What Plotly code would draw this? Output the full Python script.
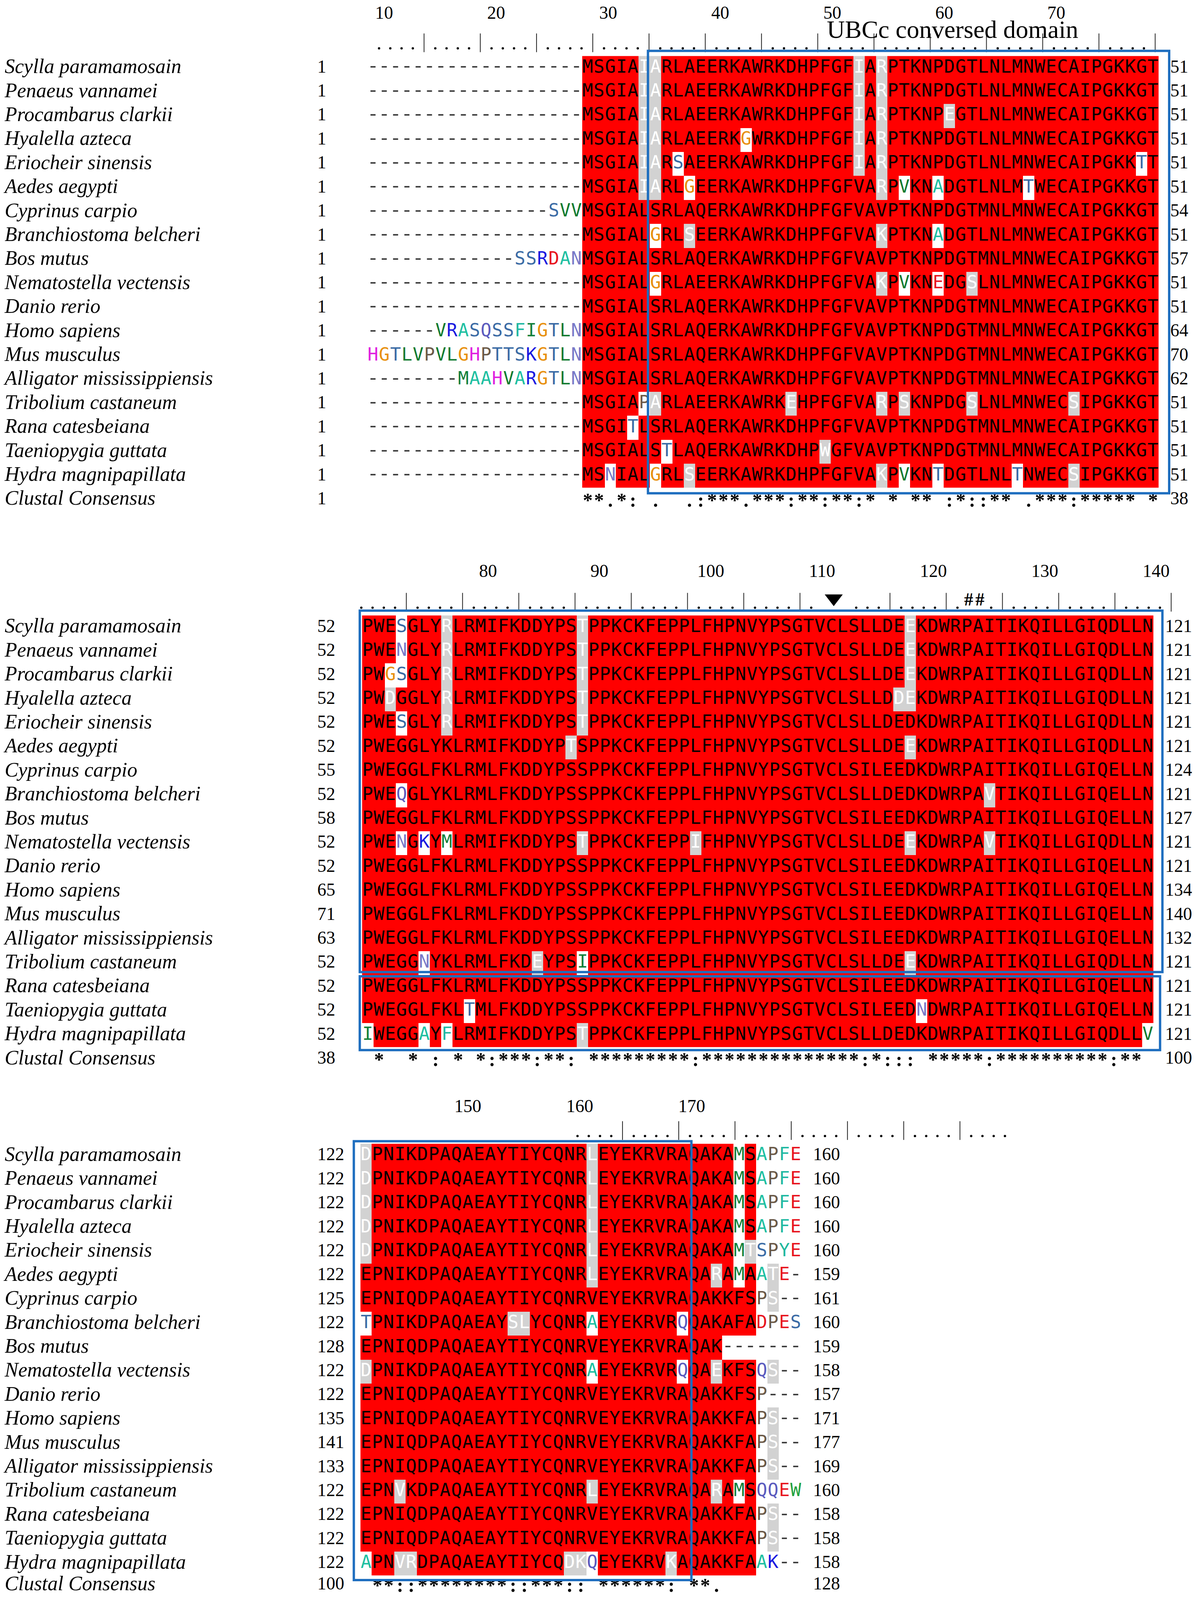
import plotly.graph_objects as go

# ---------------- alignment data ----------------
SPECIES = [
    "Scylla paramamosain", "Penaeus vannamei", "Procambarus clarkii", "Hyalella azteca",
    "Eriocheir sinensis", "Aedes aegypti", "Cyprinus carpio", "Branchiostoma belcheri",
    "Bos mutus", "Nematostella vectensis", "Danio rerio", "Homo sapiens", "Mus musculus",
    "Alligator mississippiensis", "Tribolium castaneum", "Rana catesbeiana",
    "Taeniopygia guttata", "Hydra magnipapillata",
]
CONSENSUS_NAME = "Clustal Consensus"

BLOCK1 = [
    "-------------------" "MSGIAIARLAEERKAWRKDHPFGFIARPTKNPDGTLNLMNWECAIPGKKGT",
    "-------------------" "MSGIAIARLAEERKAWRKDHPFGFIARPTKNPDGTLNLMNWECAIPGKKGT",
    "-------------------" "MSGIAIARLAEERKAWRKDHPFGFIARPTKNPEGTLNLMNWECAIPGKKGT",
    "-------------------" "MSGIAIARLAEERKGWRKDHPFGFIARPTKNPDGTLNLMNWECAIPGKKGT",
    "-------------------" "MSGIAIARSAEERKAWRKDHPFGFIARPTKNPDGTLNLMNWECAIPGKKTT",
    "-------------------" "MSGIAIARLGEERKAWRKDHPFGFVARPVKNADGTLNLMTWECAIPGKKGT",
    "----------------SVV" "MSGIALSRLAQERKAWRKDHPFGFVAVPTKNPDGTMNLMNWECAIPGKKGT",
    "-------------------" "MSGIALGRLSEERKAWRKDHPFGFVAKPTKNADGTLNLMNWECAIPGKKGT",
    "-------------SSRDAN" "MSGIALSRLAQERKAWRKDHPFGFVAVPTKNPDGTMNLMNWECAIPGKKGT",
    "-------------------" "MSGIALGRLAEERKAWRKDHPFGFVAKPVKNEDGSLNLMNWECAIPGKKGT",
    "-------------------" "MSGIALSRLAQERKAWRKDHPFGFVAVPTKNPDGTMNLMNWECAIPGKKGT",
    "------VRASQSSFIGTLN" "MSGIALSRLAQERKAWRKDHPFGFVAVPTKNPDGTMNLMNWECAIPGKKGT",
    "HGTLVPVLGHPTTSKGTLN" "MSGIALSRLAQERKAWRKDHPFGFVAVPTKNPDGTMNLMNWECAIPGKKGT",
    "--------MAAHVARGTLN" "MSGIALSRLAQERKAWRKDHPFGFVAVPTKNPDGTMNLMNWECAIPGKKGT",
    "-------------------" "MSGIAPARLAEERKAWRKEHPFGFVARPSKNPDGSLNLMNWECSIPGKKGT",
    "-------------------" "MSGITLSRLAQERKAWRKDHPFGFVAVPTKNPDGTMNLMNWECAIPGKKGT",
    "-------------------" "MSGIALSTLAQERKAWRKDHPWGFVAVPTKNPDGTMNLMNWECAIPGKKGT",
    "-------------------" "MSNIALGRLSEERKAWRKDHPFGFVAKPVKNTDGTLNLTNWECSIPGKKGT",
]

BLOCK2 = [
    "PWESGLYRLRMIFKDDYPSTPPKCKFEPPLFHPNVYPSGTVCLSLLDEEKDWRPAITIKQILLGIQDLLN",
    "PWENGLYRLRMIFKDDYPSTPPKCKFEPPLFHPNVYPSGTVCLSLLDEEKDWRPAITIKQILLGIQDLLN",
    "PWGSGLYRLRMIFKDDYPSTPPKCKFEPPLFHPNVYPSGTVCLSLLDEEKDWRPAITIKQILLGIQDLLN",
    "PWDGGLYRLRMIFKDDYPSTPPKCKFEPPLFHPNVYPSGTVCLSLLDDEKDWRPAITIKQILLGIQDLLN",
    "PWESGLYRLRMIFKDDYPSTPPKCKFEPPLFHPNVYPSGTVCLSLLDEDKDWRPAITIKQILLGIQDLLN",
    "PWEGGLYKLRMIFKDDYPTSPPKCKFEPPLFHPNVYPSGTVCLSLLDEEKDWRPAITIKQILLGIQDLLN",
    "PWEGGLFKLRMLFKDDYPSSPPKCKFEPPLFHPNVYPSGTVCLSILEEDKDWRPAITIKQILLGIQELLN",
    "PWEQGLYKLRMLFKDDYPSSPPKCKFEPPLFHPNVYPSGTVCLSLLDEDKDWRPAVTIKQILLGIQELLN",
    "PWEGGLFKLRMLFKDDYPSSPPKCKFEPPLFHPNVYPSGTVCLSILEEDKDWRPAITIKQILLGIQELLN",
    "PWENGKYMLRMIFKDDYPSTPPKCKFEPPIFHPNVYPSGTVCLSLLDEEKDWRPAVTIKQILLGIQDLLN",
    "PWEGGLFKLRMLFKDDYPSSPPKCKFEPPLFHPNVYPSGTVCLSILEEDKDWRPAITIKQILLGIQELLN",
    "PWEGGLFKLRMLFKDDYPSSPPKCKFEPPLFHPNVYPSGTVCLSILEEDKDWRPAITIKQILLGIQELLN",
    "PWEGGLFKLRMLFKDDYPSSPPKCKFEPPLFHPNVYPSGTVCLSILEEDKDWRPAITIKQILLGIQELLN",
    "PWEGGLFKLRMLFKDDYPSSPPKCKFEPPLFHPNVYPSGTVCLSILEEDKDWRPAITIKQILLGIQELLN",
    "PWEGGNYKLRMLFKDEYPSIPPKCKFEPPLFHPNVYPSGTVCLSLLDEEKDWRPAITIKQILLGIQDLLN",
    "PWEGGLFKLRMLFKDDYPSSPPKCKFEPPLFHPNVYPSGTVCLSILEEDKDWRPAITIKQILLGIQELLN",
    "PWEGGLFKLTMLFKDDYPSSPPKCKFEPPLFHPNVYPSGTVCLSILEEDNDWRPAITIKQILLGIQELLN",
    "IWEGGAYFLRMIFKDDYPSTPPKCKFEPPLFHPNVYPSGTVCLSLLDEDKDWRPAITIKQILLGIQDLLV",
]

BLOCK3 = [
    "DPNIKDPAQAEAYTIYCQNRLEYEKRVRAQAKAMSAPFE",
    "DPNIKDPAQAEAYTIYCQNRLEYEKRVRAQAKAMSAPFE",
    "DPNIKDPAQAEAYTIYCQNRLEYEKRVRAQAKAMSAPFE",
    "DPNIKDPAQAEAYTIYCQNRLEYEKRVRAQAKAMSAPFE",
    "DPNIKDPAQAEAYTIYCQNRLEYEKRVRAQAKAMTSPYE",
    "EPNIKDPAQAEAYTIYCQNRLEYEKRVRAQARAMAATE-",
    "EPNIQDPAQAEAYTIYCQNRVEYEKRVRAQAKKFSPS--",
    "TPNIKDPAQAEAYSLYCQNRAEYEKRVRQQAKAFADPES",
    "EPNIQDPAQAEAYTIYCQNRVEYEKRVRAQAK-------",
    "DPNIKDPAQAEAYTIYCQNRAEYEKRVRQQAEKFSQS--",
    "EPNIQDPAQAEAYTIYCQNRVEYEKRVRAQAKKFSP---",
    "EPNIQDPAQAEAYTIYCQNRVEYEKRVRAQAKKFAPS--",
    "EPNIQDPAQAEAYTIYCQNRVEYEKRVRAQAKKFAPS--",
    "EPNIQDPAQAEAYTIYCQNRVEYEKRVRAQAKKFAPS--",
    "EPNVKDPAQAEAYTIYCQNRLEYEKRVRAQARAMSQQEW",
    "EPNIQDPAQAEAYTIYCQNRVEYEKRVRAQAKKFAPS--",
    "EPNIQDPAQAEAYTIYCQNRVEYEKRVRAQAKKFAPS--",
    "APNVRDPAQAEAYTIYCQDKQEYEKRVKAQAKKFAAK--",
]

# residues inside this column span are identical (red); outside they are unshaded
RED_SPAN = [(20, 70), (1, 70), (1, 35)]

# per-residue exceptions: column + g (similar, grey) or w (not conserved, white)
SHADE1 = [
    "25g 26g 44g 46g", "25g 26g 44g 46g", "25g 26g 44g 46g 52g", "25g 26g 34w 44g 46g",
    "25g 26g 28w 44g 46g 69w", "25g 26g 29w 46g 48w 51w 59w", "", "26w 29g 46g 51w", "",
    "26w 46g 48w 51w 54g", "", "", "", "", "25w 26g 38g 46g 48g 54g 63g", "24w", "27w 41g",
    "22w 26w 29g 46g 48w 51w 58w 63g",
]
SHADE2 = [
    "4w 8g 20g 49g", "4w 8g 20g 49g", "3w 4w 8g 20g 49g", "3g 8g 20g 48g 49g", "4w 8g 20g",
    "19g 49g", "", "4w 56g", "", "4w 6w 8w 20g 30g 49g 56g", "", "", "", "",
    "6w 16g 20w 49g", "", "10w 50w", "1w 6w 8w 20g 70w",
]
SHADE3 = [
    "1g 21g 34w", "1g 21g 34w", "1g 21g 34w", "1g 21g 34w", "1g 21g 34w 35g",
    "21g 32g 34w 37g", "37g", "1w 14g 15g 21w 29w", "", "1g 21w 29w 32g 37g", "", "37g",
    "37g", "37g", "4g 21g 32g 34w", "37g", "37g", "1w 4g 5g 19g 20g 21w 28g",
]

CONSENSUS = [
    "                   " "**.*: .  ." ":***.***:*" "*:**:* * *" "* :*::** ." "***:***** *",
    " *  * : * " "*:***:**: " "*********:" "**********" "****:*::: " "*****:****" "******:** ",
    " **::*****" "***::***::" " ******: *" "*.",
]
CONSENSUS_NUMS = [(1, 38), (38, 100), (100, 128)]

RULER_MARKS = [
    "....|....|....|....|....|....|....|....|....|....|....|....|....|....|",
    "....|....|....|....|....|....|....|....|. ▼ ...|....|.##.|....|....|....|",
    "....|....|....|....|....|....|....|....",
]
RULER_LABELS = [
    [10, 20, 30, 40, 50, 60, 70],
    [80, 90, 100, 110, 120, 130, 140],
    [150, 160, 170],
]

DOMAIN_TITLE = "UBCc conversed domain"
# (block, first col, last col, first row, last row)
DOMAIN_BOXES = [(0, 26, 70, 1, 18), (1, 1, 70, 1, 15), (1, 1, 70, 16, 18), (2, 1, 29, 1, 18)]

AA_COLORS = {
    "G": "#E8900C", "S": "#3A6BA5", "T": "#3A6BA5", "V": "#0E7A2E", "A": "#1FC0A2",
    "D": "#E8141E", "E": "#E8141E", "N": "#7A7AC8", "Q": "#5B5BBE", "K": "#1A1AE0",
    "R": "#1A1AE0", "H": "#E020E0", "P": "#6B5A48", "L": "#127A30", "M": "#12803A",
    "I": "#12803A", "F": "#20B8A2", "Y": "#1EB89E", "W": "#22A23E", "C": "#C8A000",
}

# ---------------- layout constants ----------------
# all positions below are in reference-image pixels (3071 x 4940)
REF_W, REF_H = 3071, 4940
# the photographed viewport only shows ~4096 px of height, so the page is
# drawn a little shorter than the reference and the y axis squeezes it in
VIEW_W, VIEW_H = 3071, 4096
BODY_MARGIN = 8
FIG_W, FIG_H = VIEW_W - 2 * BODY_MARGIN, VIEW_H - 2 * BODY_MARGIN

PX = 28.93                     # column pitch
PY = 74.35                     # row pitch
BLOCK_LEFT = [940.0, 926.7, 922.5]
BLOCK_TOP = [164.0, 1898.0, 3535.6]
CONS_DY = [0, 0, -8]
RULER_START = [1.54, 0.43, 19.7]
RULER_STEP = 0.995
LABEL_START = [1.99, 11.64, 10.0]
LABEL_STEP = [0.991, 0.985, 0.99]
LABEL_DY = [-130, -133, -112]
BOX_PADS = [(5, 27, 16, 17), (6, 23, 15, -10), (6, 17, -3, 9), (17, 8, 8, 14)]
RED, GREY, BLUE = "#FF0000", "#D2D2D2", "#1E6EBF"
SERIF = "Liberation Serif"
MONO = "DejaVu Sans Mono"

BLOCKS = [BLOCK1, BLOCK2, BLOCK3]
SHADES = [SHADE1, SHADE2, SHADE3]
for blk in BLOCKS:
    assert len(set(len(s) for s in blk)) == 1, [len(s) for s in blk]


def col_x(b, k):
    return BLOCK_LEFT[b] + (k - 0.5) * PX


def row_y(b, r):
    return BLOCK_TOP[b] + (r - 0.5) * PY


def text_trace(x, y, text, size, color="black", family=SERIF, pos="middle center", **font):
    return go.Scatter(
        x=x, y=y, text=text, mode="text", textposition=pos, hoverinfo="skip",
        cliponaxis=False, textfont=dict(family=family, size=size, color=color, **font),
    )


fig = go.Figure()
letters = {}
dashes = ([], [], [])
names = ([], [], [])
nums = ([], [], [])
counts = [0] * len(SPECIES)

for b, blk in enumerate(BLOCKS):
    ncol = len(blk[0])
    lo, hi = RED_SPAN[b]
    xs = [col_x(b, k) for k in range(1, ncol + 1)]
    ys = [row_y(b, r) for r in range(1, len(blk) + 1)]
    z = []
    for r, seq in enumerate(blk):
        over = {int(t[:-1]): t[-1] for t in SHADES[b][r].split()}
        zrow = []
        for k, ch in enumerate(seq, start=1):
            x, y = xs[k - 1], ys[r]
            if ch == "-":
                zrow.append(None)
                dashes[0].append(x)
                dashes[1].append(y - 4)
                dashes[2].append(ch)
                continue
            kind = over.get(k, "r" if lo <= k <= hi else "w")
            if kind == "r":
                zrow.append(1)
                color = "black"
            elif kind == "g":
                zrow.append(0)
                color = "white"
            else:
                zrow.append(None)
                color = AA_COLORS.get(ch, "black")
            bucket = letters.setdefault(color, ([], [], []))
            bucket[0].append(x)
            bucket[1].append(y)
            bucket[2].append(ch)
        z.append(zrow)

        # names and residue numbers
        n = sum(c != "-" for c in seq)
        start = counts[r] + 1
        counts[r] += n
        names[0].append(12)
        names[1].append(ys[r])
        names[2].append(SPECIES[r])
        nums[0].extend([812, col_x(b, ncol) + PX / 2 + 30])
        nums[1].extend([ys[r], ys[r]])
        nums[2].extend([str(start), str(counts[r])])

    fig.add_trace(go.Heatmap(
        z=z, x=xs, y=ys, zmin=0, zmax=1, showscale=False, hoverinfo="skip",
        colorscale=[[0, GREY], [0.5, GREY], [0.5, RED], [1, RED]],
    ))

    # consensus row
    yc = row_y(b, len(blk) + 1) + CONS_DY[b]
    cons = CONSENSUS[b]
    fig.add_trace(text_trace(
        [col_x(b, k) for k, c in enumerate(cons, start=1) if c != " "],
        [yc + 6] * sum(c != " " for c in cons),
        [c for c in cons if c != " "], 50, weight="bold",
    ))
    names[0].append(12)
    names[1].append(yc)
    names[2].append(CONSENSUS_NAME)
    nums[0].extend([812, col_x(b, ncol) + PX / 2 + 30])
    nums[1].extend([yc, yc])
    nums[2].extend([str(v) for v in CONSENSUS_NUMS[b]])

    # ruler
    top = BLOCK_TOP[b]
    dots_x, tick_x, tick_y, hash_x, tri_x = [], [], [], [], []
    for i, c in enumerate(RULER_MARKS[b]):
        x = col_x(b, RULER_START[b] + i * RULER_STEP)
        if c == ".":
            dots_x.append(x)
        elif c == "|":
            tick_x.extend([x, x, None])
            tick_y.extend([top - 70, top - 12, None])
        elif c == "#":
            hash_x.append(x)
        elif c == "▼":
            tri_x.append(x)
    fig.add_trace(go.Scatter(
        x=dots_x, y=[top - 24] * len(dots_x), mode="markers", hoverinfo="skip",
        cliponaxis=False, marker=dict(size=6, color="black", symbol="circle"),
    ))
    fig.add_trace(go.Scatter(
        x=tick_x, y=tick_y, mode="lines", hoverinfo="skip", cliponaxis=False,
        line=dict(color="#222222", width=2),
    ))
    if hash_x:
        fig.add_trace(text_trace(hash_x, [top - 45] * len(hash_x), ["#"] * len(hash_x),
                                 46, weight="bold"))
    if tri_x:
        fig.add_trace(go.Scatter(
            x=tri_x, y=[top - 53] * len(tri_x), mode="markers", hoverinfo="skip",
            cliponaxis=False, marker=dict(size=40, color="black", symbol="triangle-down"),
        ))
    labels = RULER_LABELS[b]
    fig.add_trace(text_trace(
        [col_x(b, LABEL_START[b] + (v - labels[0]) * LABEL_STEP[b]) for v in labels],
        [top + LABEL_DY[b]] * len(labels), [str(v) for v in labels], 46,
    ))

# residues
for color, (xs, ys, ts) in letters.items():
    fig.add_trace(text_trace(xs, ys, ts, 46, color=color, family=MONO))
fig.add_trace(text_trace(dashes[0], dashes[1], dashes[2], 50, color="#3C3C3C"))

# species names and residue numbers
fig.add_trace(text_trace(names[0], names[1], names[2], 52, pos="middle right", style="italic"))
fig.add_trace(text_trace(nums[0], nums[1], nums[2], 46, pos="middle right"))

# domain boxes
shapes = []
for (b, c0, c1, r0, r1), (pl, pr, pt, pb) in zip(DOMAIN_BOXES, BOX_PADS):
    shapes.append(dict(
        type="rect", xref="x", yref="y", layer="above",
        x0=BLOCK_LEFT[b] + (c0 - 1) * PX - pl, x1=BLOCK_LEFT[b] + c1 * PX + pr,
        y0=BLOCK_TOP[b] + (r0 - 1) * PY - pt, y1=BLOCK_TOP[b] + r1 * PY + pb,
        line=dict(color=BLUE, width=6), fillcolor="rgba(0,0,0,0)",
    ))

fig.update_layout(
    width=FIG_W, height=FIG_H, margin=dict(l=0, r=0, t=0, b=0),
    paper_bgcolor="white", plot_bgcolor="white", showlegend=False,
    xaxis=dict(range=[BODY_MARGIN, BODY_MARGIN + FIG_W], visible=False, fixedrange=True),
    yaxis=dict(range=[REF_H, 0], visible=False, fixedrange=True),
    shapes=shapes,
    annotations=[dict(
        text=DOMAIN_TITLE, x=2437, y=BLOCK_TOP[0] - 82, xref="x", yref="y",
        showarrow=False, font=dict(family=SERIF, size=64, color="black"),
    )],
)

fig.write_html("out.html")
